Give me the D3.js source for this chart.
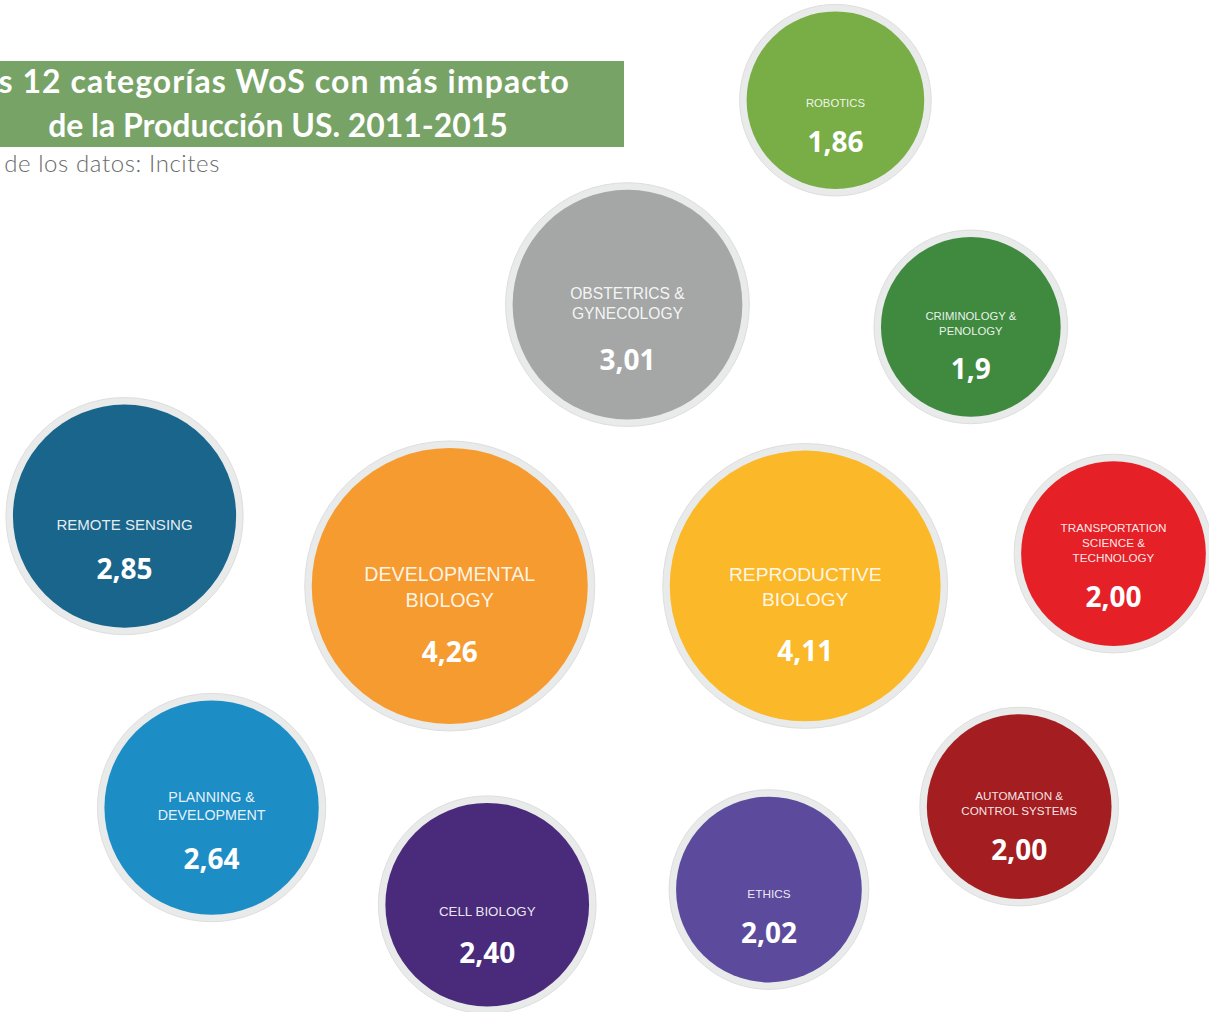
<!DOCTYPE html>
<html>
<head>
<meta charset="utf-8">
<script src="https://d3js.org/d3.v7.min.js"></script>
<style>
	body, html {
		margin: 0;
		padding: 0;
		background: #fff;
		overflow: hidden;
	}
	.title {
		font-family: "Lato", sans-serif;
		font-weight: bold;
		fill: #fff;
	}
	.source {
		font-family: "Lato", sans-serif;
		font-weight: 300;
		fill: #6a6a6a;
	}
	.cat-label {
		font-family: "Liberation Sans", Arial, sans-serif;
		fill: #fff;
		fill-opacity: 0.9;
		text-anchor: middle;
	}
	.val-label {
		font-family: "Open Sans", sans-serif;
		font-weight: bold;
		fill: #fff;
		text-anchor: middle;
		font-size: 28px;
	}
</style>
</head>
<body>
<script>

	// data
	var categories = [
		["ROBOTICS"],
		["OBSTETRICS &", "GYNECOLOGY"],
		["CRIMINOLOGY &", "PENOLOGY"],
		["REMOTE SENSING"],
		["DEVELOPMENTAL", "BIOLOGY"],
		["REPRODUCTIVE", "BIOLOGY"],
		["TRANSPORTATION", "SCIENCE &", "TECHNOLOGY"],
		["PLANNING &", "DEVELOPMENT"],
		["CELL BIOLOGY"],
		["ETHICS"],
		["AUTOMATION &", "CONTROL SYSTEMS"]
	];
	var values = [1.86, 3.01, 1.9, 2.85, 4.26, 4.11, 2.00, 2.64, 2.40, 2.02, 2.00];
	var valueLabels = ["1,86", "3,01", "1,9", "2,85", "4,26", "4,11", "2,00", "2,64", "2,40", "2,02", "2,00"];

	// layout of the bubbles, in percent of the page
	var layoutX = [69.1, 51.9, 80.3, 10.3, 37.2, 66.6, 92.1, 17.5, 40.3, 63.6, 84.3];
	var layoutY = [9.9, 30.1, 32.3, 51.0, 57.9, 57.9, 54.7, 79.8, 89.4, 87.9, 79.7];

	var colors = ["#79ad46", "#a5a7a7", "#3f8a3f", "#19658b", "#f59b30", "#fbb829",
		"#e52127", "#1d8dc6", "#4a2a7a", "#5c4a9d", "#a41d21"];

	var titleLines = ["Las 12 categorías WoS con más impacto", "de la Producción US. 2011-2015"];
	var sourceText = "Fuente de los datos: Incites";

	var w = 1209;
	var h = 1012;
	var ring = 7;

	var data = categories.map(function(c, i){
		return {lines: c, value: values[i], label: valueLabels[i],
			lx: layoutX[i], ly: layoutY[i], color: colors[i]};
	});

	var x = d3.scaleLinear().domain([0, 100]).range([0, w]);
	var y = d3.scaleLinear().domain([0, 100]).range([0, h]);
	var r = d3.scaleSqrt().domain([0, d3.max(values)]).range([0, 145]);
	var fontScale = d3.scaleLinear().domain([90, 140]).range([11.3, 20]).clamp(true);

	var svg = d3.select("body").append("svg")
		.attr("width", w)
		.attr("height", h);

	// title box
	svg.append("rect")
		.attr("x", -80)
		.attr("y", 61)
		.attr("width", 704)
		.attr("height", 86)
		.style("fill", "#77a366");

	var t2 = svg.append("text")
		.attr("class", "title")
		.attr("x", 278)
		.attr("y", 137)
		.attr("text-anchor", "middle")
		.style("font-size", "30px")
		.text(titleLines[1]);
	// fit the title to the width seen in the picture
	var fs = 30 * 460 / t2.node().getComputedTextLength();
	t2.style("font-size", fs + "px");

	svg.append("text")
		.attr("class", "title")
		.attr("x", 570)
		.attr("y", 93)
		.attr("text-anchor", "end")
		.style("font-size", fs + "px")
		.style("letter-spacing", "1.1px")
		.text(titleLines[0]);

	svg.append("text")
		.attr("class", "source")
		.attr("x", 220)
		.attr("y", 172)
		.attr("text-anchor", "end")
		.style("font-size", "24px")
		.style("letter-spacing", "0.6px")
		.text(sourceText);

	var g = svg.selectAll(".bubble")
		.data(data)
		.enter()
		.append("g")
		.attr("class", "bubble")
		.attr("transform", function(d){ return "translate(" + x(d.lx) + "," + y(d.ly) + ")"; });

	g.append("circle")
		.attr("r", function(d){ return r(d.value); })
		.style("fill", "#e9eaea")
		.style("stroke", "#dedede")
		.style("stroke-width", 1);

	g.append("circle")
		.attr("r", function(d){ return r(d.value) - ring; })
		.style("fill", function(d){ return d.color; });

	g.each(function(d){
		var el = d3.select(this);
		var rr = r(d.value) - ring;
		var f = fontScale(rr);
		var valY = r(d.value) * 0.5 + 4;
		var lh = f * 1.3;
		var lastY = valY - (30 + f * 1.3);
		d.lines.forEach(function(line, j){
			el.append("text")
				.attr("class", "cat-label")
				.attr("y", lastY - (d.lines.length - 1 - j) * lh)
				.style("font-size", f + "px")
				.text(line);
		});
		el.append("text")
			.attr("class", "val-label")
			.attr("y", valY)
			.text(d.label);
	});

</script>
</body>
</html>
